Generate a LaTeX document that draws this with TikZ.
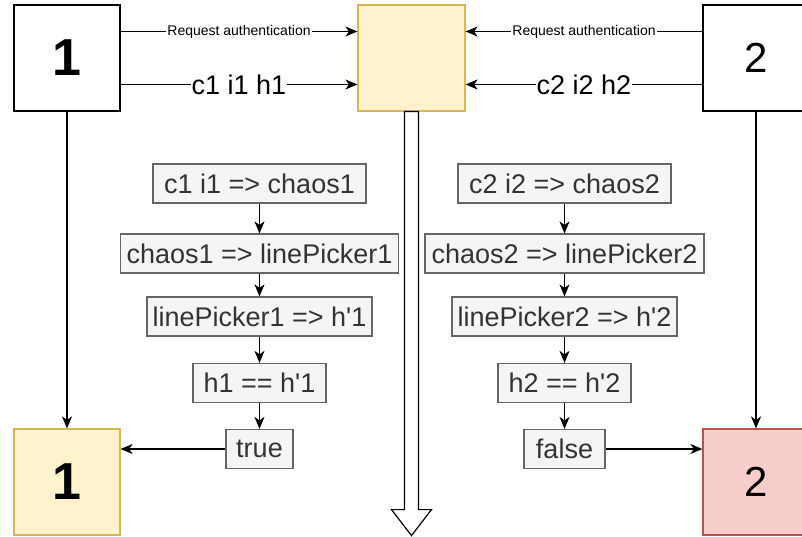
\documentclass[tikz,border=0pt]{standalone}
\usepackage{fontspec}
\newfontfamily\drawfont{Liberation Sans}
\usetikzlibrary{arrows.meta}
\definecolor{yellowFill}{HTML}{FFF2CC}
\definecolor{yellowLine}{HTML}{D6B656}
\definecolor{redFill}{HTML}{F8CECC}
\definecolor{redLine}{HTML}{B85450}
\definecolor{greyFill}{HTML}{F5F5F5}
\definecolor{greyLine}{HTML}{666666}
\definecolor{greyText}{HTML}{333333}
\begin{document}
\begin{tikzpicture}[x=1pt,y=-1pt,%
% common options for the big boxes:
party/.style = {draw, line width=1.2pt, minimum width=106pt, minimum height=106pt,
            inner sep=0, font=\drawfont\fontsize{42}{48}\selectfont},
% common options for the hash steps:
hashbox/.style = {draw=greyLine, fill=greyFill, text=greyText, line width=1.2pt,
            minimum height=39pt, inner sep=0, font=\drawfont\fontsize{27}{32}\selectfont},
% common options for the arrows:
link/.style = {-{Stealth[length=12pt,width=10pt,inset=3.5pt]}, line width=1.2pt},
tag/.style = {fill=white, inner sep=1pt, font=\drawfont}]
\useasboundingbox (0,0) rectangle (802,537);
\clip (0,0) rectangle (802,537);
\node[party] (top1) at (67,58) {\fontsize{52}{60}\selectfont\bfseries 1};
\node[party,fill=yellowFill,draw=yellowLine,minimum width=107pt] (auth) at (411.5,58) {};
\node[party] (top2) at (756,58) {2};
\node[party,fill=yellowFill,draw=yellowLine] (bot1) at (67,482) {\fontsize{52}{60}\selectfont\bfseries 1};
\node[party,fill=redFill,draw=redLine] (bot2) at (756,482) {2};
\node[hashbox,minimum width=213pt] (A1) at (259.5,183.5) {c1 i1 => chaos1};
\node[hashbox,minimum width=278pt] (A2) at (259.5,253.5) {chaos1 => linePicker1};
\node[hashbox,minimum width=225pt] (A3) at (259.5,316.5) {linePicker1 => h'1};
\node[hashbox,minimum width=133pt] (A4) at (259.5,383) {h1 == h'1};
\node[hashbox,minimum width=67pt] (A5) at (259.5,449) {true};
\node[hashbox,minimum width=213pt] (B1) at (564.5,183.5) {c2 i2 => chaos2};
\node[hashbox,minimum width=279pt] (B2) at (564.5,253.5) {chaos2 => linePicker2};
\node[hashbox,minimum width=225pt] (B3) at (564.5,316.5) {linePicker2 => h'2};
\node[hashbox,minimum width=133pt] (B4) at (564.5,383) {h2 == h'2};
\node[hashbox,minimum width=81pt] (B5) at (564.5,449) {false};
\draw[link] ([yshift=26.5pt]top1.east) to node[tag,font=\drawfont\fontsize{14}{16}\selectfont] {Request authentication} ([yshift=26.5pt]auth.west);
\draw[link] ([yshift=-26.5pt]top1.east) to node[tag,font=\drawfont\fontsize{27}{32}\selectfont] {c1 i1 h1} ([yshift=-26.5pt]auth.west);
\draw[link] ([yshift=26.5pt]top2.west) to node[tag,font=\drawfont\fontsize{14}{16}\selectfont] {Request authentication} ([yshift=26.5pt]auth.east);
\draw[link] ([yshift=-26.5pt]top2.west) to node[tag,font=\drawfont\fontsize{27}{32}\selectfont] {c2 i2 h2} ([yshift=-26.5pt]auth.east);
\draw[link] (top1) to (bot1);
\draw[link] (top2) to (bot2);
\draw[link] (A1) to (A2);
\draw[link] (A2) to (A3);
\draw[link] (A3) to (A4);
\draw[link] (A4) to (A5);
\draw[link] (B1) to (B2);
\draw[link] (B2) to (B3);
\draw[link] (B3) to (B4);
\draw[link] (B4) to (B5);
\draw[link] (A5.west) to (A5.west -| bot1.east);
\draw[link] (B5.east) to (B5.east -| bot2.west);
% the hollow arrow below the server
\draw[line width=1.2pt, fill=white] ([xshift=-7pt]auth.south) -- ++(0,398) -- ++(-13,0)
      -- ++(20,26) -- ++(20,-26) -- ++(-13,0) -- ++(0,-398) -- cycle;
\end{tikzpicture}
\end{document}
